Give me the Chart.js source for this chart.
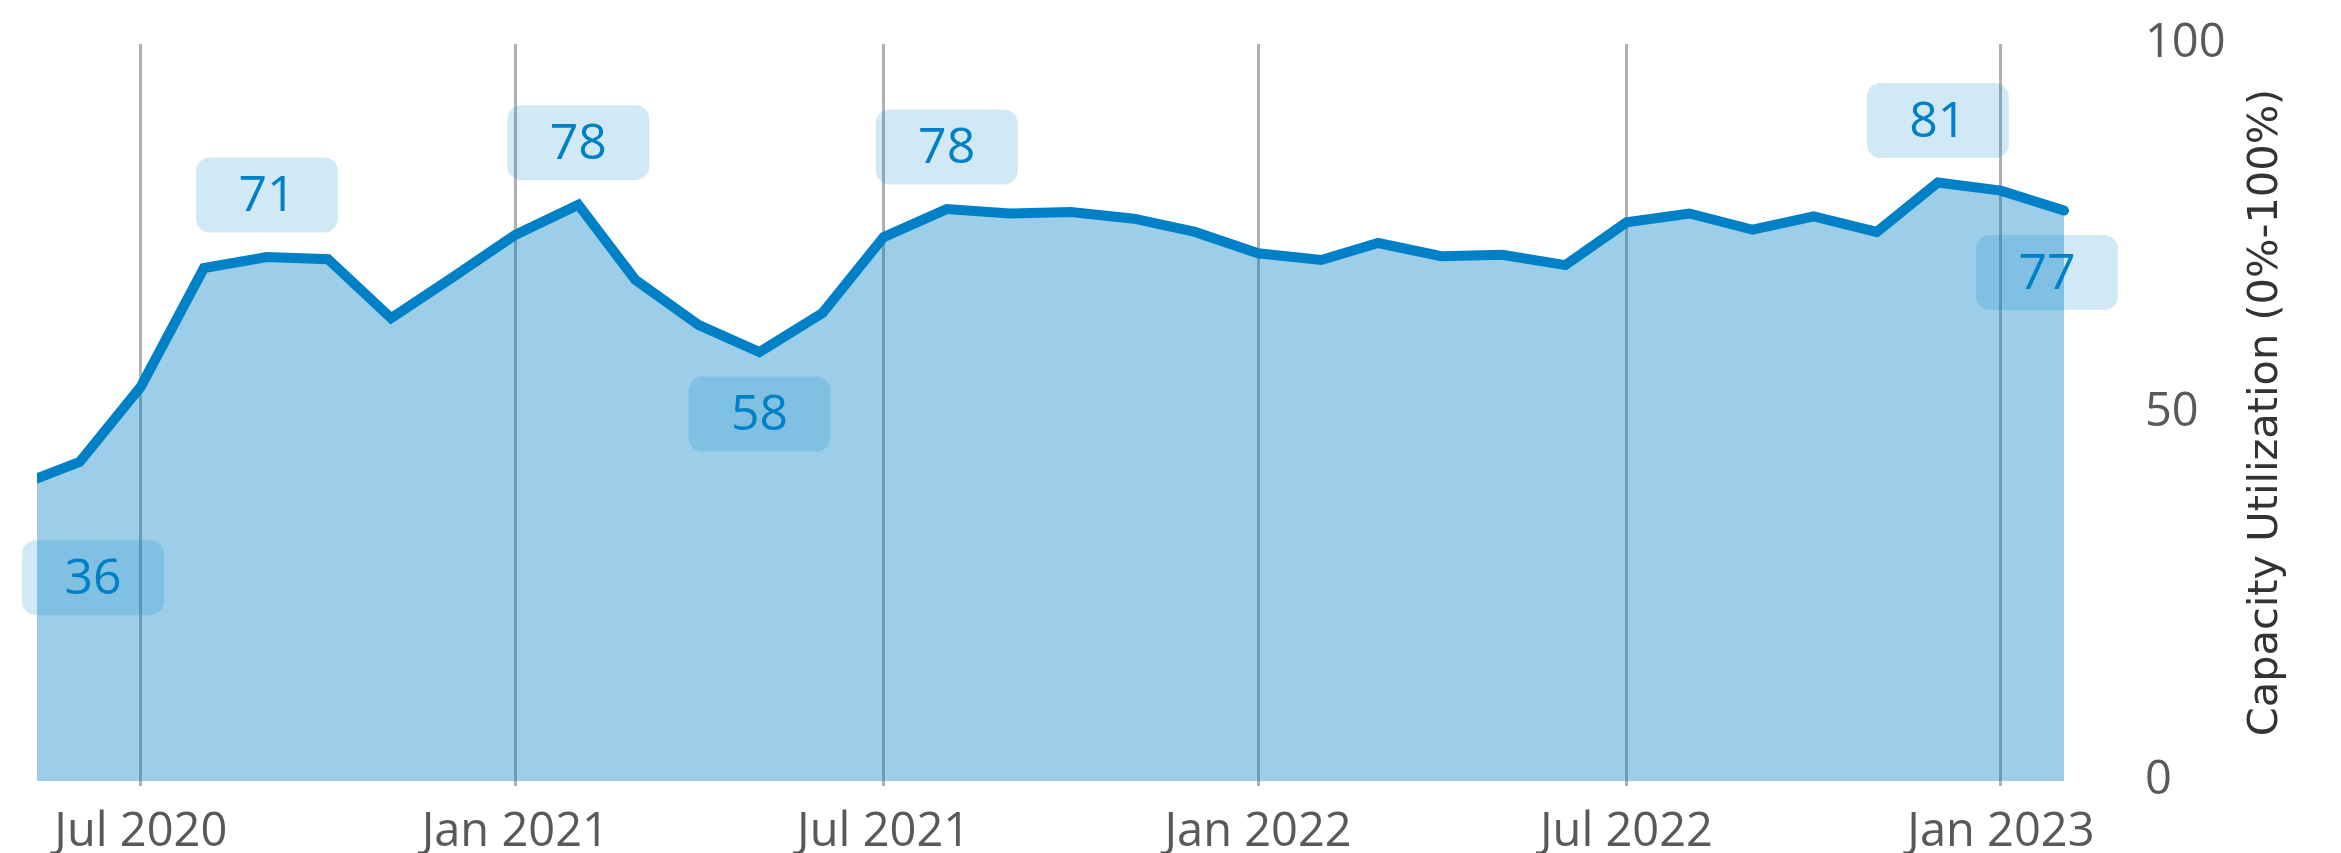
<!DOCTYPE html>
<html><head><meta charset="utf-8">
<script src="https://cdn.jsdelivr.net/npm/chart.js@4/dist/chart.umd.min.js"></script>
<style>html,body{margin:0;padding:0;background:#fff;overflow:hidden}#wrap{width:2341px;height:853px}</style>
</head><body><div id="wrap"><canvas id="c" width="2341" height="853"></canvas></div>
<script>
const months = ["2020-04","2020-05","2020-06","2020-07","2020-08","2020-09","2020-10","2020-11","2020-12",
  "2021-01","2021-02","2021-03","2021-04","2021-05","2021-06","2021-07","2021-08","2021-09","2021-10","2021-11","2021-12",
  "2022-01","2022-02","2022-03","2022-04","2022-05","2022-06","2022-07","2022-08","2022-09","2022-10","2022-11","2022-12",
  "2023-01","2023-02"];
const utilization = [36,40,43.3,53.5,69.6,71.1,70.8,62.8,68.3,
  74.1,78.2,68.0,61.9,58.2,63.5,73.8,77.6,77.0,77.2,76.3,74.5,
  71.6,70.7,73.0,71.2,71.4,70.0,75.8,77.0,74.8,76.6,74.5,81.2,
  80.1,77.4];
const tickDates = ["2020-07","2021-01","2021-07","2022-01","2022-07","2023-01"];
const tickLabels = ["Jul 2020","Jan 2021","Jul 2021","Jan 2022","Jul 2022","Jan 2023"];
const yTicks = [0,50,100];
const labelMonths = ["2020-04","2020-09","2021-02","2021-05","2021-08","2022-12","2023-02"];
const labelSides = ["below","above","above","below","above","above","below"];
const axisTitle = "Capacity Utilization (0%-100%)";
const viewStart = "2020-05-11";

function dayNum(s){ const p = s.split('-').map(Number); return Date.UTC(p[0], p[1]-1, p[2]||1)/86400000; }

const LINE = '#0080C6';
const TICKFONT = {family: "'Open Sans', 'Noto Sans', sans-serif", size: 47};

const labelPlugin = {
  id: 'pointLabels',
  afterDatasetsDraw(chart){
    const {ctx, chartArea, scales:{x, y}} = chart;
    ctx.save();
    const w = 142, h = 75, r = 14;
    labelMonths.forEach((m, i) => {
      const idx = months.indexOf(m);
      const v = utilization[idx];
      let cx = x.getPixelForValue(dayNum(m));
      const py = y.getPixelForValue(v);
      const cy = labelSides[i] === 'above' ? py - 62 : py + 62;
      cx = Math.max(chartArea.left + 56, Math.min(chartArea.right - 17, cx));
      ctx.beginPath();
      ctx.roundRect(cx - w/2, cy - h/2, w, h, r);
      ctx.fillStyle = 'rgba(0,128,198,0.18)';
      ctx.fill();
      ctx.fillStyle = LINE;
      ctx.font = "50px 'Open Sans', 'Noto Sans', sans-serif";
      ctx.textAlign = 'center';
      ctx.textBaseline = 'middle';
      ctx.fillText(String(Math.round(v)), cx, cy + 2);
    });
    ctx.restore();
  }
};

const titlePlugin = {
  id: 'rightTitle',
  afterDraw(chart){
    const {ctx, chartArea} = chart;
    ctx.save();
    ctx.translate(chart.width - 75, (chartArea.top + chartArea.bottom)/2);
    ctx.rotate(-Math.PI/2);
    ctx.font = "41.5px 'DejaVu Sans', sans-serif";
    ctx.fillStyle = '#333333';
    ctx.textAlign = 'center';
    ctx.textBaseline = 'middle';
    ctx.fillText(axisTitle, 0, 0);
    ctx.restore();
  }
};

new Chart(document.getElementById('c'), {
  type: 'line',
  data: {
    datasets: [{
      data: months.map((m, i) => ({x: dayNum(m), y: utilization[i]})),
      borderColor: LINE,
      borderWidth: 10,
      backgroundColor: 'rgba(0,128,198,0.39)',
      fill: 'origin',
      pointRadius: 0,
      pointHoverRadius: 0,
      tension: 0,
      borderCapStyle: 'round',
      borderJoinStyle: 'miter',
      clip: {left: 0, top: 20, right: 20, bottom: 0}
    }]
  },
  options: {
    responsive: false,
    animation: false,
    devicePixelRatio: 1,
    layout: {padding: {left: 37, top: 44, right: 0, bottom: 0}},
    plugins: {legend: {display: false}, tooltip: {enabled: false}},
    scales: {
      x: {
        type: 'linear',
        min: dayNum(viewStart),
        max: dayNum(months[months.length - 1]),
        afterBuildTicks: s => { s.ticks = tickDates.map(d => ({value: dayNum(d)})); },
        afterFit: s => { s.height = 72; },
        ticks: {
          autoSkip: false, maxRotation: 0, minRotation: 0,
          callback: (v, i) => tickLabels[i],
          font: TICKFONT, color: '#595959', padding: 18
        },
        grid: {color: '#b0b0b0', lineWidth: 3, drawTicks: true, tickLength: 5},
        border: {display: false}
      },
      y: {
        position: 'right',
        min: 0, max: 100,
        afterBuildTicks: s => { s.ticks = yTicks.map(v => ({value: v})); },
        afterFit: s => { s.width = 277; },
        ticks: {font: TICKFONT, color: '#595959', padding: 0},
        grid: {display: false, drawTicks: true, tickLength: 81},
        border: {display: false}
      }
    }
  },
  plugins: [labelPlugin, titlePlugin]
});
</script></body></html>
